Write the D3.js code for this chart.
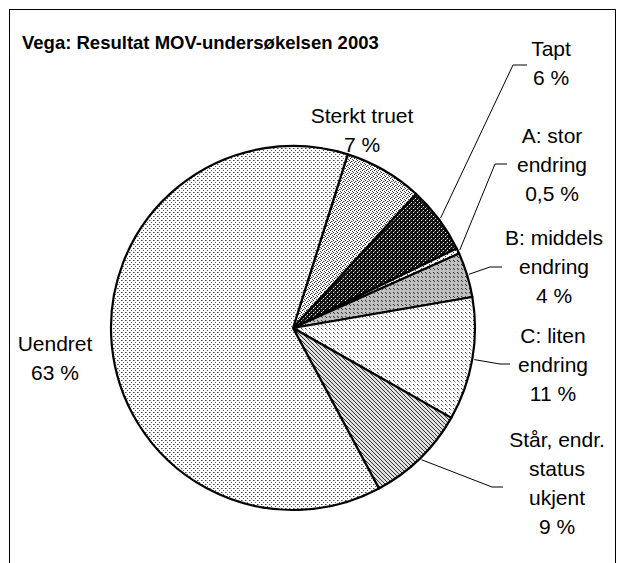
<!DOCTYPE html>
<html lang="no">
<head>
<meta charset="utf-8">
<script src="https://d3js.org/d3.v7.min.js"></script>
<style>
    body { margin: 0; background: #fff; }
    text { font-family: "Liberation Sans", Arial, sans-serif; fill: #000; }
</style>
</head>
<body>
<svg></svg>
<script>
    // data
    const categories = ['Sterkt truet', 'Tapt', 'A: stor endring', 'B: middels endring',
        'C: liten endring', 'Står, endr. status ukjent', 'Uendret'];
    const values = [7, 6, 0.5, 4, 11, 9, 63];
    const valueLabels = ['7 %', '6 %', '0,5 %', '4 %', '11 %', '9 %', '63 %'];
    const labelLines = [
        ['Sterkt truet'], ['Tapt'], ['A: stor', 'endring'], ['B: middels', 'endring'],
        ['C: liten', 'endring'], ['Står, endr.', 'status', 'ukjent'], ['Uendret']
    ];
    const title = 'Vega: Resultat MOV-undersøkelsen 2003';

    // layout
    const width = 626, height = 563;
    const cx = 293, cy = 328, r = 182;
    const lineGap = 29;
    // label anchor (centre x, first baseline) and leader elbow (x, y, end x)
    const labelPos = [
        {x: 362, y: 123, leader: null},
        {x: 551, y: 56, leader: [513, 65, 527]},
        {x: 552, y: 143, leader: [495, 164, 507]},
        {x: 554, y: 245, leader: [490, 267, 502]},
        {x: 553, y: 343, leader: [500, 364, 510]},
        {x: 557, y: 447, leader: [492, 487, 503]},
        {x: 55, y: 351, leader: null}
    ];

    const svg = d3.select('svg').attr('width', width).attr('height', height);
    const defs = svg.append('defs');

    // bitmap-like fill patterns: [size, background, [[x, y, colour], ...]]
    const patternDefs = [
        [4, '#fff', [[0, 0, '#222'], [2, 1, '#444'], [1, 2, '#222'], [3, 3, '#444'], [3, 1, '#aaa']]],
        [4, '#111', [[0, 0, '#fff'], [2, 2, '#ddd'], [1, 3, '#666']]],
        [4, '#fff', [[0, 0, '#333'], [2, 2, '#333']]],
        [4, '#c0c0c0', [[0, 0, '#222'], [1, 1, '#333']]],
        [4, '#fff', [[0, 0, '#333'], [1, 1, '#777'], [2, 2, '#bbb']]],
        [4, '#e0e0e0', [[0, 0, '#333'], [1, 1, '#333'], [2, 2, '#333'], [3, 3, '#333']]],
        [4, '#fff', [[0, 0, '#444'], [1, 0, '#999'], [2, 2, '#555']]]
    ];
    patternDefs.forEach((p, i) => {
        const pat = defs.append('pattern')
            .attr('id', 'pat' + i)
            .attr('patternUnits', 'userSpaceOnUse')
            .attr('width', p[0]).attr('height', p[0]);
        pat.append('rect').attr('width', p[0]).attr('height', p[0]).attr('fill', p[1]);
        p[2].forEach(d => {
            pat.append('rect').attr('x', d[0]).attr('y', d[1])
                .attr('width', 1).attr('height', 1).attr('fill', d[2])
                .attr('shape-rendering', 'crispEdges');
        });
    });

    // frame
    svg.append('rect')
        .attr('x', 9.5).attr('y', 9.5).attr('width', 606).attr('height', 580)
        .attr('fill', 'none').attr('stroke', '#000').attr('stroke-width', 1);

    svg.append('text')
        .attr('x', 22).attr('y', 49)
        .style('font-size', '18.5px').style('font-weight', 'bold')
        .text(title);

    const startAngle = 17.5 * Math.PI / 180;
    const pie = d3.pie().sort(null).value(d => d)
        .startAngle(startAngle).endAngle(startAngle + 2 * Math.PI);
    const arcs = pie(values);
    const arc = d3.arc().innerRadius(0).outerRadius(r);

    const g = svg.append('g').attr('transform', `translate(${cx},${cy})`);
    g.selectAll('path')
        .data(arcs)
        .enter().append('path')
        .attr('d', arc)
        .attr('fill', (d, i) => `url(#pat${i})`)
        .attr('stroke', '#000')
        .attr('stroke-width', 2.2)
        .attr('stroke-linejoin', 'round');

    // leader lines from the slice edge to the label
    arcs.forEach((d, i) => {
        const lp = labelPos[i];
        if (!lp.leader) return;
        const a = (d.startAngle + d.endAngle) / 2;
        const x0 = cx + (r + 2) * Math.sin(a);
        const y0 = cy - (r + 2) * Math.cos(a);
        const [ex, ey, tx] = lp.leader;
        svg.append('polyline')
            .attr('points', `${x0},${y0} ${ex},${ey} ${tx},${ey}`)
            .attr('fill', 'none').attr('stroke', '#000').attr('stroke-width', 1);
    });

    // labels
    categories.forEach((c, i) => {
        const lp = labelPos[i];
        const lines = labelLines[i].concat([valueLabels[i]]);
        const t = svg.append('text')
            .attr('text-anchor', 'middle')
            .style('font-size', '21px');
        lines.forEach((ln, k) => {
            t.append('tspan').attr('x', lp.x).attr('y', lp.y + k * lineGap).text(ln);
        });
    });
</script>
</body>
</html>
